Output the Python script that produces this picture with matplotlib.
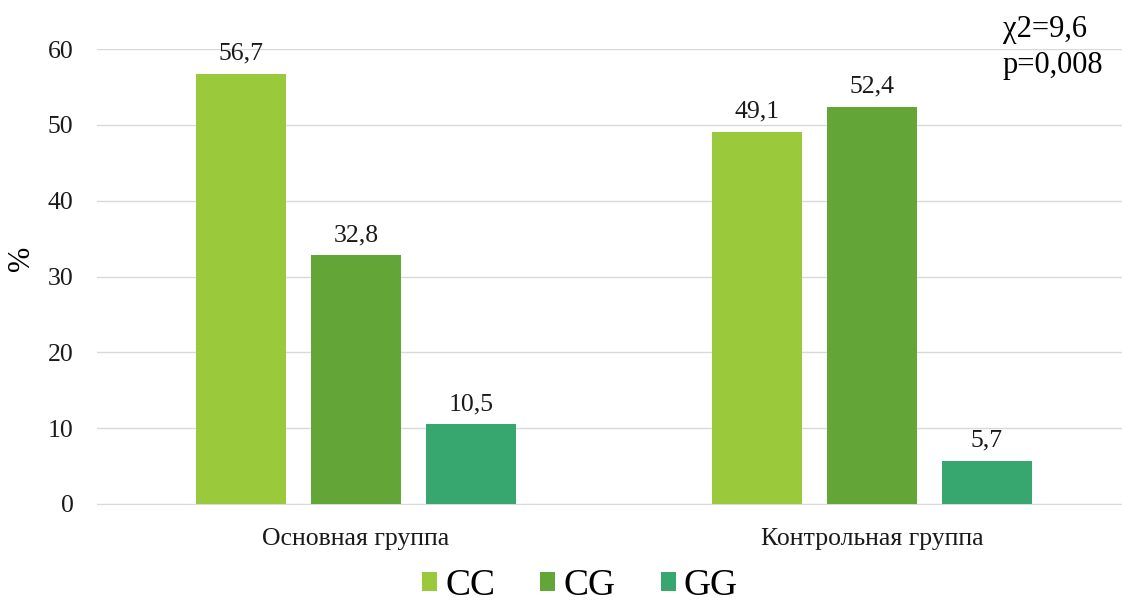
import matplotlib
matplotlib.use("Agg")
import matplotlib.pyplot as plt
from matplotlib.patches import Patch
import numpy as np

plt.rcParams['font.family'] = ['Liberation Serif', 'DejaVu Serif']

groups = ["Основная группа", "Контрольная группа"]
genotypes = ["CC", "CG", "GG"]
values = {
    "CC": [56.7, 49.1],
    "CG": [32.8, 52.4],
    "GG": [10.5, 5.7],
}
colors = {"CC": "#9ACA3C", "CG": "#63A537", "GG": "#37A76F"}
yticks = [0, 10, 20, 30, 40, 50, 60]

W, H = 1122, 603
fig = plt.figure(figsize=(W / 100, H / 100), dpi=100)
ax_left, ax_right = 97, 1122
y0, y60 = 504, 49
ax = fig.add_axes([ax_left / W, (H - y0) / H, (ax_right - ax_left) / W, (y0 - y60) / H])

band = 516.0
c0 = 356.0
ax.set_xlim((ax_left - c0) / band, (ax_right - c0) / band)
ax.set_ylim(0, 60)

x = np.arange(len(groups))
bw = 90 / band
step = 115 / band
for i, g in enumerate(genotypes):
    pos = x + (i - 1) * step
    bars = ax.bar(pos, values[g], width=bw, color=colors[g], zorder=3)
    for b, v in zip(bars, values[g]):
        ax.text(b.get_x() + b.get_width() / 2, v + 1.2, f"{v:.1f}".replace(".", ","),
                ha="center", va="bottom", fontsize=18.5, color="#1a1a1a", zorder=4)

ax.set_yticks(yticks)
ax.set_yticklabels([str(t) for t in yticks], fontsize=18.5)
ax.set_xticks(x)
ax.set_xticklabels(groups, fontsize=18.5)
ax.grid(axis="y", color="#d9d9d9", linewidth=1, zorder=0)
for s in ["top", "right", "left"]:
    ax.spines[s].set_visible(False)
ax.spines["bottom"].set_color("#d9d9d9")
ax.tick_params(axis="both", length=0, colors="#1a1a1a")
ax.tick_params(axis="y", pad=17)
ax.tick_params(axis="x", pad=17)

fig.text(22 / W, (H - 258) / H, "%", rotation=90, fontsize=22, ha="center", va="center")
fig.text(1003 / W, (H - 30) / H, "χ2=9,6", fontsize=22, ha="left", va="center")
fig.text(1003 / W, (H - 65) / H, "p=0,008", fontsize=22, ha="left", va="center")

handles = [Patch(facecolor=colors[g], label=g) for g in genotypes]
fig.legend(handles=handles, loc="center", bbox_to_anchor=(580 / W, (H - 586) / H),
           ncol=3, frameon=False, fontsize=27, handlelength=0.4, handleheight=0.4,
           handletextpad=0.22, columnspacing=1.2, borderpad=0)

fig.savefig("out.png", dpi=100)
